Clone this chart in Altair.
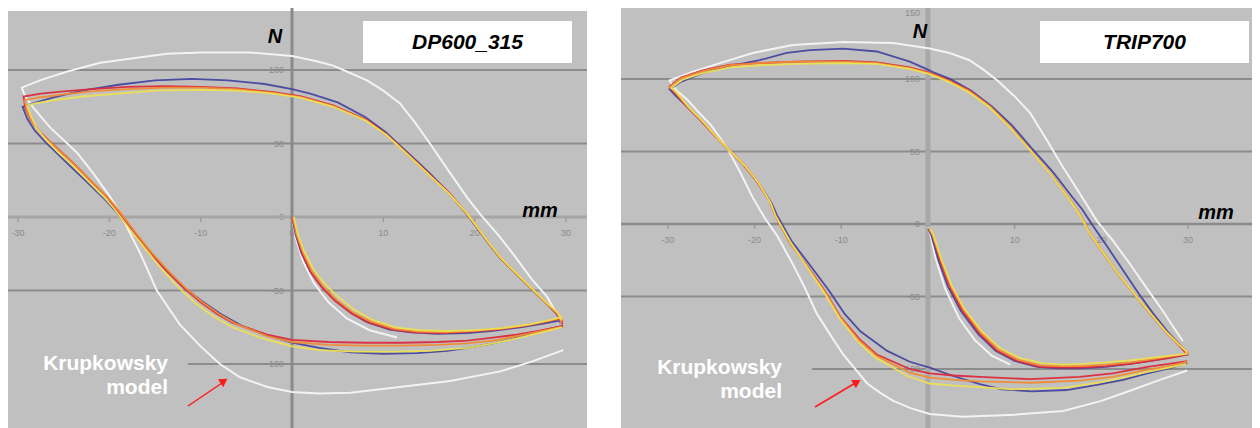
import altair as alt
import pandas as pd

FONT = "Liberation Sans"

# ---------------- DP600_315 (left panel) : force N vs displacement mm ----------------
L_BLUE = [
    (0, 0), (0.4, -12), (1.0, -24), (2.0, -37), (3.2, -47), (4.5, -55), (6.4, -65), (8.2, -71.5),
    (10.7, -76.5), (13.0, -78.5), (16.0, -79.5), (19.2, -79), (22.0, -77.5), (25.0, -75), (27.5, -72.5), (29.3, -70.5),
    (29.4, -72), (29.0, -66), (27.9, -59), (26.4, -50), (24.6, -39), (22.8, -28), (21.4, -17), (20.1, -6),
    (19.0, 3), (17.1, 17), (15.2, 29), (13.5, 39), (11.6, 50), (10.2, 58), (8.0, 68), (5.0, 78), (2.0, 84),
    (0.0, 87), (-3.0, 90.5), (-7.0, 93), (-11.0, 94), (-15.0, 93), (-19.0, 90), (-23.0, 86), (-26.0, 81.5),
    (-28.0, 78), (-29.5, 75),
    (-29.0, 67), (-28.2, 59), (-27.0, 51), (-25.5, 42), (-24.0, 33), (-22.3, 23), (-20.5, 12), (-19.3, 4),
    (-17.6, -8), (-15.8, -22), (-13.8, -36), (-11.8, -48), (-9.8, -57.5), (-7.8, -66), (-5.5, -74), (-3.0, -80),
    (0.0, -85.5), (3.0, -89), (6.4, -92), (10.0, -93), (13.7, -92.5), (17.0, -91), (19.2, -89), (22.0, -86),
    (24.6, -82), (27.0, -78), (29.6, -74),
]
L_RED = [
    (0, 0), (0.5, -12), (1.1, -25), (2.1, -38), (3.3, -48), (4.7, -57), (6.6, -66), (8.5, -72),
    (11.0, -76.5), (13.5, -78.5), (16.5, -79), (19.5, -78), (22.5, -76.5), (25.5, -74), (28.0, -71), (29.5, -69),
    (29.6, -73), (29.2, -67), (28.1, -60), (26.6, -51), (24.8, -40), (23.0, -29), (21.6, -18), (20.3, -7),
    (19.2, 2), (17.3, 16), (15.4, 27), (13.7, 37), (11.8, 48), (10.4, 56), (8.2, 66), (4.5, 76), (1.0, 82),
    (-2.0, 85), (-6.0, 87.5), (-10.0, 88.5), (-14.0, 89), (-18.0, 88.5), (-22.0, 87), (-25.0, 85.5),
    (-27.5, 84), (-29.4, 82),
    (-29.2, 74), (-28.6, 66), (-27.6, 58), (-26.3, 50), (-24.7, 41), (-23.2, 32), (-21.8, 23), (-20.3, 14),
    (-19.2, 5), (-17.4, -10), (-15.6, -24), (-13.7, -37), (-11.9, -48), (-10.0, -58), (-8.2, -66), (-6.5, -72),
    (-2.7, -80), (0.0, -83.5), (4.0, -85), (8.0, -85.5), (12.0, -85.5), (16.0, -85), (19.2, -84), (22.0, -82),
    (24.6, -80), (27.0, -77.5), (29.7, -74),
]
L_YELLOW = [
    (0.2, 0), (0.6, -11), (1.3, -23), (2.3, -35), (3.5, -45), (5.0, -54), (6.8, -63), (8.8, -70),
    (11.3, -75), (14.0, -77), (17.0, -77.5), (20.0, -77), (23.0, -75.5), (26.0, -73), (28.3, -70), (29.5, -68),
    (29.5, -70), (29.1, -65), (28.0, -59), (26.5, -50), (24.7, -39), (22.9, -28), (21.5, -17), (20.2, -6),
    (19.1, 3), (17.2, 16), (15.3, 27), (13.6, 37), (11.7, 48), (10.3, 56), (8.1, 65.5), (4.5, 75), (1.0, 81),
    (-2.0, 84), (-6.0, 86), (-10.0, 86.5), (-15.0, 86), (-19.0, 84), (-23.0, 82), (-26.0, 79.5),
    (-28.0, 77.5), (-29.0, 76),
    (-28.6, 69), (-28.0, 61), (-27.0, 53), (-25.6, 44), (-24.0, 35), (-22.4, 25), (-20.8, 15), (-19.5, 6),
    (-17.8, -8), (-16.0, -22), (-14.2, -36), (-12.4, -48), (-10.5, -59), (-8.5, -68), (-6.5, -75), (-3.5, -82),
    (0.0, -88), (3.0, -90.5), (7.0, -91.5), (11.0, -91.5), (15.0, -91), (19.2, -89), (22.0, -86),
    (24.6, -82.5), (27.0, -79), (29.5, -75),
]
L_ORANGE = [
    (0.1, 0), (0.5, -12), (1.2, -24), (2.2, -37), (3.4, -47), (4.8, -56), (6.7, -65), (8.6, -71),
    (11.2, -76), (13.8, -78), (16.8, -78.5), (19.8, -77.5), (22.8, -76), (25.8, -73.5), (28.2, -70.5), (29.5, -68.5),
    (29.5, -72), (29.1, -66), (28.0, -59.5), (26.5, -50.5), (24.7, -39.5), (22.9, -28.5), (21.5, -17.5),
    (20.2, -6.5), (19.1, 2.5), (17.2, 16), (15.3, 27), (13.6, 37), (11.7, 48), (10.3, 56), (8.1, 66),
    (4.5, 75.5), (1.0, 81.5), (-2.0, 84.5), (-6.0, 87), (-10.0, 88), (-14.0, 88), (-18.0, 87), (-22.0, 85.5),
    (-25.0, 83.5), (-27.5, 81.5), (-29.3, 79.5),
    (-29.0, 72), (-28.4, 64), (-27.4, 56), (-26.0, 48), (-24.4, 39), (-22.9, 30), (-21.4, 21), (-20.0, 12),
    (-18.9, 4), (-17.2, -10), (-15.4, -24), (-13.5, -37), (-11.7, -48), (-9.8, -58), (-8.0, -66), (-6.2, -72.5),
    (-2.7, -81), (0.0, -85), (4.0, -87), (8.0, -87.5), (12.0, -87.5), (16.0, -87), (19.2, -86), (22.0, -84),
    (24.6, -81), (27.0, -78), (29.6, -74.5),
]
L_MODEL_INNER = [(0, 0), (0.4, -14), (1.2, -30), (2.4, -45), (4.0, -58), (6.0, -69), (8.5, -77), (11.5, -82)]
L_MODEL_LOOP = [
    (29.1, -67), (27.9, -54), (26.4, -43.5), (24.2, -25), (22.5, -11.6), (20.6, 2), (19.2, 13), (17.3, 30),
    (15.1, 50), (13.5, 64), (11.8, 77.5), (10.0, 86), (8.2, 93), (6.0, 99), (4.5, 103), (2.7, 106), (0.0, 109.5),
    (-4.6, 112), (-10.0, 112), (-13.7, 111), (-17.4, 108), (-21.0, 105), (-24.6, 99), (-27.6, 93), (-29.6, 88),
    (-29.2, 82), (-28.4, 75), (-26.5, 61), (-24.6, 50), (-23.5, 43.5), (-21.8, 30), (-19.9, 13.6), (-18.8, 2.7),
    (-17.9, -9), (-16.6, -25), (-14.8, -50), (-12.3, -73), (-10.0, -88), (-7.9, -100), (-5.7, -109),
    (-2.7, -115.6), (0.0, -119), (3.0, -120), (6.4, -119.5), (11.8, -115.6), (17.3, -111.5), (22.8, -105),
    (26.4, -98), (29.7, -90.5),
]

# ---------------- TRIP700 (right panel) ----------------
R_BLUE = [
    (0.0, -3), (0.4, -8), (1.2, -25), (2.3, -43), (3.8, -60), (5.8, -76), (7.8, -87.5), (10.0, -94.5),
    (12.6, -98.5), (15.0, -99.5), (17.5, -99.5), (20.5, -98.5), (23.3, -96.5), (26.0, -94), (28.0, -92), (29.9, -90),
    (29.9, -89), (29.0, -83), (27.6, -74), (26.0, -62), (24.3, -48), (22.4, -31), (20.5, -14), (19.0, -1),
    (17.8, 10), (16.6, 19), (14.4, 36), (12.0, 52), (9.7, 68), (7.4, 81), (5.0, 92), (2.6, 100), (0.5, 105),
    (-0.6, 108), (-2.1, 112), (-5.9, 119), (-9.8, 121), (-13.6, 120), (-16.3, 118), (-19.4, 113), (-22.8, 109),
    (-26.0, 104), (-28.5, 98), (-29.8, 93),
    (-29.2, 89), (-27.6, 80), (-26.1, 71), (-24.1, 58), (-22.6, 49), (-21.1, 40), (-19.5, 28), (-18.0, 14),
    (-17.4, 6), (-15.7, -12), (-13.4, -30), (-11.4, -46), (-9.6, -62), (-7.8, -74), (-4.7, -87.5), (-2.1, -95),
    (0.2, -99), (3.0, -105), (6.0, -110.5), (8.5, -114), (12.0, -115.5), (16.0, -114.5), (19.5, -111),
    (22.5, -107.5), (25.3, -103), (27.8, -99.5), (29.9, -96),
]
R_RED = [
    (0.1, -3), (0.5, -7), (1.4, -25.5), (2.5, -43), (4.0, -60), (6.0, -76), (8.0, -87.5), (10.3, -94.5),
    (12.9, -98.5), (15.2, -99), (17.5, -99), (20.5, -98), (23.3, -96.5), (25.5, -94.5), (27.8, -92.5), (29.9, -90),
    (29.9, -90), (29.0, -84), (27.5, -75), (25.8, -63), (24.0, -50), (22.1, -36), (20.2, -20), (18.7, -7),
    (17.5, 7), (16.4, 16.5), (14.1, 35), (11.8, 51), (9.5, 67), (7.2, 81), (4.8, 92), (2.5, 99), (0.2, 104.5),
    (-2.1, 108), (-5.9, 111.5), (-9.8, 112.5), (-15.1, 112), (-19.4, 111), (-22.8, 110), (-26.0, 106),
    (-28.5, 101), (-29.8, 95),
    (-29.4, 92), (-27.8, 81), (-26.3, 72), (-24.3, 59), (-22.8, 50), (-21.3, 41), (-19.7, 29), (-18.2, 15),
    (-17.7, 7), (-16.0, -12), (-13.8, -30), (-11.8, -47), (-10.1, -64), (-7.8, -80), (-5.9, -90), (-2.1, -100),
    (0.2, -103), (3.0, -104.5), (6.0, -105.5), (11.8, -107), (17.5, -105.5), (21.3, -103), (25.3, -98.5),
    (27.8, -96.5), (29.9, -94.5),
]
R_YELLOW = [
    (0.2, -3), (0.6, -7), (1.6, -25), (2.7, -42), (4.2, -58.5), (6.2, -74), (8.3, -85.5), (10.6, -92.5),
    (13.2, -96), (15.5, -97), (17.8, -96.5), (20.5, -95.5), (23.3, -94), (25.5, -92.5), (27.8, -91), (29.8, -89.5),
    (29.8, -88), (28.9, -83), (27.4, -74), (25.7, -62), (23.9, -49), (22.0, -35), (20.1, -19), (18.6, -6),
    (17.4, 7.5), (16.3, 17), (14.0, 35.5), (11.7, 51.5), (9.4, 67), (7.1, 80.5), (4.7, 91), (2.4, 98),
    (0.1, 103.5), (-2.1, 107), (-5.9, 110.5), (-9.8, 111), (-15.1, 110.5), (-19.4, 109.5), (-22.8, 108),
    (-26.0, 104), (-28.3, 99.5), (-29.6, 94),
    (-29.0, 91), (-27.5, 80), (-26.0, 71), (-24.1, 58), (-22.6, 49), (-21.1, 40), (-19.5, 28), (-18.1, 14),
    (-17.6, 6), (-15.9, -12), (-13.8, -31), (-11.9, -48), (-10.2, -65), (-8.1, -81), (-6.1, -92), (-2.3, -105),
    (0.2, -110), (3.0, -111.5), (6.0, -112.5), (9.8, -114), (15.6, -113), (19.5, -109.5), (22.5, -106),
    (25.3, -102), (27.8, -99), (29.8, -96.5),
]
R_ORANGE = [
    (0.1, -3), (0.5, -7), (1.5, -25), (2.6, -42.5), (4.1, -59), (6.1, -75), (8.1, -86.5), (10.4, -93.5),
    (13.0, -97.5), (15.3, -98), (17.6, -98), (20.5, -97), (23.3, -95.5), (25.5, -93.5), (27.8, -91.5), (29.9, -89.5),
    (29.9, -88.5), (29.0, -83), (27.5, -74.5), (25.8, -62.5), (24.0, -49.5), (22.1, -35.5), (20.2, -19.5),
    (18.7, -6.5), (17.5, 7), (16.4, 16.5), (14.1, 35), (11.8, 51), (9.5, 67), (7.2, 81), (4.8, 91.5),
    (2.5, 98.5), (0.2, 104), (-2.1, 107.5), (-5.9, 111), (-9.8, 112), (-15.1, 112), (-19.4, 111),
    (-22.8, 109.5), (-26.0, 105.5), (-28.5, 100.5), (-29.8, 94.5),
    (-29.3, 92), (-27.7, 81), (-26.2, 72), (-24.2, 59), (-22.7, 50), (-21.2, 41), (-19.6, 29), (-18.2, 15),
    (-17.7, 7), (-16.0, -12), (-13.8, -30.5), (-11.8, -47.5), (-10.1, -64.5), (-7.9, -80.5), (-5.9, -91),
    (-2.1, -102.5), (0.2, -106), (3.0, -107.5), (6.0, -108.5), (11.8, -109.5), (17.5, -108), (21.3, -105.5),
    (25.3, -100.5), (27.8, -98), (29.9, -95),
]
R_MODEL_INNER = [(0.0, -2), (0.3, -8), (0.9, -24), (2.0, -45), (3.6, -65), (5.4, -80), (7.4, -91), (9.5, -97)]
R_MODEL_LOOP = [
    (29.4, -80.7), (28.3, -71), (27.1, -60), (25.2, -44), (23.3, -27.6), (21.4, -12), (19.5, 2), (18.7, 9.7),
    (17.2, 24), (15.6, 39), (13.7, 58), (11.8, 76.5), (10.0, 88), (8.0, 99), (6.4, 106.5), (4.8, 113),
    (2.5, 118), (0.2, 121), (-4.0, 124.8), (-9.8, 125.5), (-15.6, 123.4), (-20.2, 118), (-24.0, 111),
    (-27.1, 105), (-29.8, 99), (-29.0, 92), (-27.8, 86), (-26.6, 78), (-25.0, 68), (-23.2, 53), (-21.6, 35),
    (-20.1, 17), (-18.8, 4), (-17.4, -8), (-15.6, -27.6), (-14.2, -44), (-12.8, -62), (-11.2, -77),
    (-9.8, -89.7), (-8.4, -100), (-7.0, -110), (-5.5, -116.5), (-4.0, -122), (-2.0, -127), (0.2, -131),
    (4.0, -133), (10.0, -131.5), (15.6, -129), (20.0, -122), (23.3, -115), (27.0, -107), (29.9, -101),
]

X_TICKS = [-30, -20, -10, 0, 10, 20, 30]
L_Y_TICKS = [100, 50, 0, -50, -100]
R_Y_TICKS = [150, 100, 50, 0, -50, -100]
L_GRID = [100, 50, -50, -100]
R_GRID = [150, 100, 50, -50, -100]

SERIES_COLORS = {"blue": "#46469e", "red": "#dc2a3c", "orange": "#f28a32", "yellow": "#ece052"}

BG = "#c0c0c0"
GRID = "#8c8c8c"


def path_df(points):
    return pd.DataFrame({"i": list(range(len(points))),
                         "x": [p[0] for p in points],
                         "y": [p[1] for p in points]})


def panel(cfg):
    W, H = cfg["w"], cfg["h"]
    xs = alt.Scale(domain=cfg["xdom"], nice=False, zero=False)
    ys = alt.Scale(domain=cfg["ydom"], nice=False, zero=False)

    def X():
        return alt.X("x:Q", scale=xs, axis=None)

    def Y():
        return alt.Y("y:Q", scale=ys, axis=None)

    one = pd.DataFrame({"a": [0]})
    layers = []
    # background
    layers.append(alt.Chart(one).mark_rect(color=BG).encode(
        x=alt.value(0), x2=alt.value(W), y=alt.value(cfg["top"]), y2=alt.value(H)))
    # grid lines
    layers.append(alt.Chart(pd.DataFrame({"y": cfg["grid"]})).mark_rule(
        color=GRID, strokeWidth=2, clip=True).encode(y=Y()))
    # x tick labels
    layers.append(alt.Chart(pd.DataFrame({"x": X_TICKS, "y": [0] * len(X_TICKS),
                                          "t": [str(v) for v in X_TICKS]})).mark_text(
        font=FONT, fontSize=9, color="#8a8a8a", dy=16, align="center", baseline="middle", clip=True).encode(
        x=X(), y=Y(), text="t:N"))
    # y tick labels (a label at the very top edge is hung below the edge)
    ymax = cfg["ydom"][1]
    inner = [v for v in cfg["yticks"] if v < ymax - 3]
    edge = [v for v in cfg["yticks"] if v >= ymax - 3]
    layers.append(alt.Chart(pd.DataFrame({"x": [0] * len(inner), "y": inner,
                                          "t": [str(v) for v in inner]})).mark_text(
        font=FONT, fontSize=9, color="#8a8a8a", dx=-8, align="right", baseline="middle").encode(
        x=X(), y=Y(), text="t:N"))
    if edge:
        layers.append(alt.Chart(pd.DataFrame({"x": [0] * len(edge), "y": [ymax] * len(edge),
                                              "t": [str(v) for v in edge]})).mark_text(
            font=FONT, fontSize=9, color="#8a8a8a", dx=-8, dy=1, align="right", baseline="top").encode(
            x=X(), y=Y(), text="t:N"))
    # axis lines
    layers.append(alt.Chart(pd.DataFrame({"y": [0]})).mark_rule(
        color=cfg["hax_color"], strokeWidth=cfg["hax_w"], clip=True).encode(y=Y()))
    layers.append(alt.Chart(pd.DataFrame({"x": [0]})).mark_rule(
        color=cfg["vax_color"], strokeWidth=cfg["vax_w"], clip=True).encode(x=X()))
    # x ticks
    layers.append(alt.Chart(pd.DataFrame({"x": X_TICKS, "y": [0] * len(X_TICKS)})).mark_tick(
        orient="vertical", size=4, thickness=1.5, yOffset=3, color=GRID, clip=True).encode(x=X(), y=Y()))
    # grey box behind the model label
    bx = cfg["lbl_box"]
    layers.append(alt.Chart(one).mark_rect(color=BG).encode(
        x=alt.value(bx[0]), x2=alt.value(bx[1]), y=alt.value(bx[2]), y2=alt.value(bx[3])))
    # model curves (white)
    for pts in cfg["model"]:
        layers.append(alt.Chart(path_df(pts)).mark_line(
            color="#f3f3f3", strokeWidth=2, clip=True).encode(x=X(), y=Y(), order="i:Q"))
    # measured curves
    for name, pts in cfg["series"]:
        layers.append(alt.Chart(path_df(pts)).mark_line(
            color=SERIES_COLORS[name], strokeWidth=1.8, opacity=0.95, clip=True).encode(
            x=X(), y=Y(), order="i:Q"))
    # title box
    tb = cfg["title_box"]
    layers.append(alt.Chart(one).mark_rect(color="white").encode(
        x=alt.value(tb[0]), x2=alt.value(tb[1]), y=alt.value(tb[2]), y2=alt.value(tb[3])))
    layers.append(alt.Chart(one).mark_text(
        text=cfg["title"], font=FONT, fontSize=21, fontStyle="italic", fontWeight="bold",
        color="black", align="center", baseline="middle").encode(
        x=alt.value((tb[0] + tb[1]) / 2), y=alt.value((tb[2] + tb[3]) / 2 + 1)))
    # axis names
    layers.append(alt.Chart(one).mark_text(
        text="N", font=FONT, fontSize=20, fontStyle="italic", fontWeight="bold",
        color="black", align="center", baseline="alphabetic").encode(
        x=alt.value(cfg["n_pos"][0]), y=alt.value(cfg["n_pos"][1])))
    layers.append(alt.Chart(one).mark_text(
        text="mm", font=FONT, fontSize=20, fontStyle="italic", fontWeight="bold",
        color="black", align="center", baseline="alphabetic").encode(
        x=alt.value(cfg["mm_pos"][0]), y=alt.value(cfg["mm_pos"][1])))
    # model label
    lx, ly1, ly2 = cfg["lbl_pos"]
    for txt, yy in (("Krupkowsky", ly1), ("model", ly2)):
        layers.append(alt.Chart(one).mark_text(
            text=txt, font=FONT, fontSize=21, fontWeight="bold", color="white",
            align="right", baseline="alphabetic").encode(x=alt.value(lx), y=alt.value(yy)))
    # arrow
    a = cfg["arrow"]
    layers.append(alt.Chart(one).mark_rule(color="#ff1a1a", strokeWidth=1.5).encode(
        x=alt.value(a[0]), y=alt.value(a[1]), x2=alt.value(a[2]), y2=alt.value(a[3])))
    layers.append(alt.Chart(one).mark_point(
        shape="triangle-up", filled=True, size=90, angle=a[6], color="#ff1a1a", opacity=1).encode(
        x=alt.value(a[4]), y=alt.value(a[5])))
    return alt.layer(*layers).properties(width=W, height=H)


LEFT = dict(
    w=579, h=420, top=3, xdom=[-31.1, 32.3], ydom=[-143.5, 142.2],
    grid=L_GRID, yticks=L_Y_TICKS,
    hax_color="#a6a6a6", hax_w=3, vax_color="#8a8a8a", vax_w=3,
    lbl_box=(0, 180, 337, 402),
    model=[L_MODEL_INNER, L_MODEL_LOOP],
    series=[("blue", L_BLUE), ("red", L_RED), ("orange", L_ORANGE), ("yellow", L_YELLOW)],
    title_box=(355, 564, 13, 55), title="DP600_315",
    n_pos=(267, 35), mm_pos=(532, 209),
    lbl_pos=(160, 362, 386),
    arrow=(180, 398, 217, 373, 216, 373, 56),
)
RIGHT = dict(
    w=631, h=420, top=0, xdom=[-35.4, 37.37], ydom=[-140.7, 149.0],
    grid=R_GRID, yticks=R_Y_TICKS,
    hax_color="#8a8a8a", hax_w=2.5, vax_color="#a8a8a8", vax_w=5,
    lbl_box=(0, 191, 337, 407),
    model=[R_MODEL_INNER, R_MODEL_LOOP],
    series=[("blue", R_BLUE), ("red", R_RED), ("orange", R_ORANGE), ("yellow", R_YELLOW)],
    title_box=(419, 628, 13, 55), title="TRIP700",
    n_pos=(299, 30), mm_pos=(595, 211),
    lbl_pos=(161, 366, 390),
    arrow=(194, 399, 236, 374, 236, 374, 59),
)

chart = alt.hconcat(panel(LEFT), panel(RIGHT), spacing=34, bounds="flush").properties(
    padding=0, background="white").configure_view(stroke=None)

chart.save("out.html", embed_options={"renderer": "svg", "actions": False})
